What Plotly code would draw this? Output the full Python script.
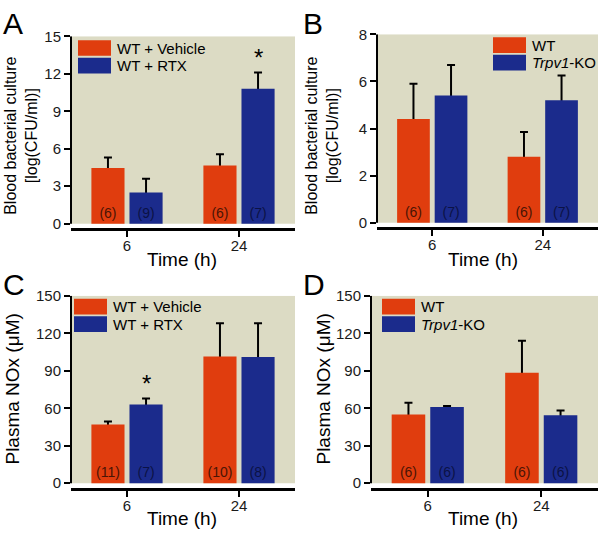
import plotly.graph_objects as go

W, H = 601, 536

# ---------------- data ----------------
time_labels = ["6", "24"]

a_names = ["WT + Vehicle", "WT + RTX"]
a_vehicle = [4.45, 4.65]
a_vehicle_err = [0.85, 0.9]
a_vehicle_n = ["(6)", "(6)"]
a_rtx = [2.5, 10.8]
a_rtx_err = [1.1, 1.3]
a_rtx_n = ["(9)", "(7)"]
a_sig = [False, True]

b_names = ["WT", "<i>Trpv1</i>-KO"]
b_wt = [4.4, 2.8]
b_wt_err = [1.5, 1.05]
b_wt_n = ["(6)", "(6)"]
b_ko = [5.4, 5.2]
b_ko_err = [1.3, 1.05]
b_ko_n = ["(7)", "(7)"]

c_names = ["WT + Vehicle", "WT + RTX"]
c_vehicle = [47, 101.5]
c_vehicle_err = [2.5, 26.5]
c_vehicle_n = ["(11)", "(10)"]
c_rtx = [63, 101]
c_rtx_err = [4.8, 27]
c_rtx_n = ["(7)", "(8)"]
c_sig = [True, False]

d_names = ["WT", "<i>Trpv1</i>-KO"]
d_wt = [55, 88.5]
d_wt_err = [9.5, 25.5]
d_wt_n = ["(6)", "(6)"]
d_ko = [61, 54.5]
d_ko_err = [0.8, 3.8]
d_ko_n = ["(6)", "(6)"]

bact_ticks = [0, 3, 6, 9, 12, 15]
bact_ticks_b = [0, 2, 4, 6, 8]
nox_ticks = [0, 30, 60, 90, 120, 150]

# ---------------- style ----------------
ORANGE = "#E03D0E"
BLUE = "#1B2B8C"
BG = "#DCDBC4"
INK = "#1a1a1a"
TXT_ON_ORANGE = "#4a1405"
TXT_ON_BLUE = "#0b1245"
FONT = "Liberation Sans, Arial, sans-serif"


def px(x):
    return x / W


def py(y):
    return 1 - y / H


# panel geometry in pixels: (left, right, top, zero, bottom)
panels = {
    1: dict(l=71, r=295, t=28, z=220, b=224),
    2: dict(l=377, r=598, t=26, z=219, b=223),
    3: dict(l=71, r=295, t=294, z=486, b=491),
    4: dict(l=371, r=598, t=294, z=486, b=491),
}

fig = go.Figure()

specs = [
    (1, a_vehicle, a_vehicle_err, a_vehicle_n, a_rtx, a_rtx_err, a_rtx_n, bact_ticks, a_sig),
    (2, b_wt, b_wt_err, b_wt_n, b_ko, b_ko_err, b_ko_n, bact_ticks_b, [False, False]),
    (3, c_vehicle, c_vehicle_err, c_vehicle_n, c_rtx, c_rtx_err, c_rtx_n, nox_ticks, c_sig),
    (4, d_wt, d_wt_err, d_wt_n, d_ko, d_ko_err, d_ko_n, nox_ticks, [False, False]),
]

shapes = []
annotations = []

for idx, v1, e1, n1, v2, e2, n2, ticks, sig in specs:
    sfx = "" if idx == 1 else str(idx)
    xa, ya = "x" + sfx, "y" + sfx
    g = panels[idx]
    top = ticks[-1]
    span = g["z"] - g["t"]
    ymin = -top * (g["b"] - g["z"]) / span

    # error bars first (on hidden bars) so the visible bars cover their lower ends
    for vals, errs, og in ((v1, e1, "a"), (v2, e2, "b")):
        fig.add_trace(go.Bar(
            x=time_labels, y=vals, xaxis=xa, yaxis=ya, offsetgroup=og,
            marker=dict(color="rgba(0,0,0,0)", line=dict(width=0)),
            error_y=dict(type="data", array=errs, arrayminus=[v / 2 for v in vals],
                         symmetric=False, color="black", thickness=2, width=4),
            showlegend=False, hoverinfo="skip",
        ))
    for vals, ns, og, col, tcol in ((v1, n1, "a", ORANGE, TXT_ON_ORANGE),
                                    (v2, n2, "b", BLUE, TXT_ON_BLUE)):
        fig.add_trace(go.Bar(
            x=time_labels, y=vals, xaxis=xa, yaxis=ya, offsetgroup=og,
            marker=dict(color=col, line=dict(width=0)),
            text=ns, textposition="inside", insidetextanchor="start", textangle=0,
            textfont=dict(family=FONT, size=14, color=tcol),
            constraintext="none", showlegend=False,
        ))

    fig.update_layout(**{
        ("xaxis" + sfx): dict(
            domain=[px(g["l"]), px(g["r"])], anchor=ya, type="category",
            range=[-0.5, len(time_labels) - 0.5],
            showline=True, linewidth=3, linecolor="black",
            ticks="outside", ticklen=6, tickwidth=2, tickcolor="black",
            ticklabelstandoff=-4,
            tickfont=dict(family=FONT, size=15, color=INK),
            showgrid=False, zeroline=False, fixedrange=True,
        ),
        ("yaxis" + sfx): dict(
            domain=[py(g["b"]), py(g["t"])], anchor=xa,
            range=[ymin, top], tickmode="array", tickvals=ticks,
            showline=False, ticks="outside", ticklen=6, tickwidth=2, tickcolor="black",
            tickfont=dict(family=FONT, size=15, color=INK),
            showgrid=False, zeroline=False, fixedrange=True,
        ),
    })

    # panel background from 0 up to the top
    shapes.append(dict(type="rect", xref=xa + " domain", yref=ya, x0=0, x1=1, y0=0, y1=top,
                       fillcolor=BG, line=dict(width=0), layer="below"))
    # y axis line from 0 to top
    shapes.append(dict(type="line", xref=xa + " domain", yref=ya, x0=0, x1=0, y0=0, y1=top,
                       line=dict(color="black", width=2)))

    # significance asterisks (x given as category index)
    for i, s in enumerate(sig):
        if s:
            annotations.append(dict(
                x=i, y=v2[i] + e2[i], xref=xa, yref=ya,
                text="*", showarrow=False, xshift=19, yshift=0,
                yanchor="bottom", font=dict(family=FONT, size=24, color="black"),
            ))


# ---- text: letters, axis titles ----
def ann(x, y, text, size, angle=0, xanchor="center", yanchor="middle"):
    annotations.append(dict(x=px(x), y=py(y), xref="paper", yref="paper", text=text,
                            showarrow=False, textangle=angle, xanchor=xanchor, yanchor=yanchor,
                            font=dict(family=FONT, size=size, color="black")))


ann(1, 15, "A", 30, xanchor="left")
ann(301, 15, "B", 30, xanchor="left")
ann(1, 282, "C", 30, xanchor="left")
ann(301, 282, "D", 30, xanchor="left")

ann(21, 130, "Blood bacterial culture<br>[log(CFU/ml)]", 16, angle=-90)
ann(322, 130, "Blood bacterial culture<br>[log(CFU/ml)]", 16, angle=-90)
ann(13, 390, "Plasma NOx (\u03bcM)", 19, angle=-90)
ann(324, 390, "Plasma NOx (\u03bcM)", 19, angle=-90)

ann(182, 257, "Time (h)", 19)
ann(483, 257, "Time (h)", 19)
ann(182, 522, "Time (h)", 19)
ann(483, 522, "Time (h)", 19)

# ---- legends (swatches + labels) ----
legends = [
    (78, 32, a_names),
    (493, 29, b_names),
    (74, 297, c_names),
    (382, 297, d_names),
]
for lx, ly, names in legends:
    for k, (nm, col) in enumerate(zip(names, (ORANGE, BLUE))):
        y0 = ly + k * 18
        shapes.append(dict(type="rect", xref="paper", yref="paper",
                           x0=px(lx), x1=px(lx + 33), y0=py(y0 + 16), y1=py(y0),
                           fillcolor=col, line=dict(width=0)))
        ann(lx + 37, y0 + 8, nm, 15, xanchor="left")

fig.update_layout(
    width=W, height=H, margin=dict(l=0, r=0, t=0, b=0),
    paper_bgcolor="white", plot_bgcolor="white",
    barmode="group", bargap=0.32, bargroupgap=0.13,
    showlegend=False, shapes=shapes, annotations=annotations,
    font=dict(family=FONT, color=INK),
)

fig.write_html("out.html", config={"displayModeBar": False},
               post_script="document.body.style.margin='0px';")
